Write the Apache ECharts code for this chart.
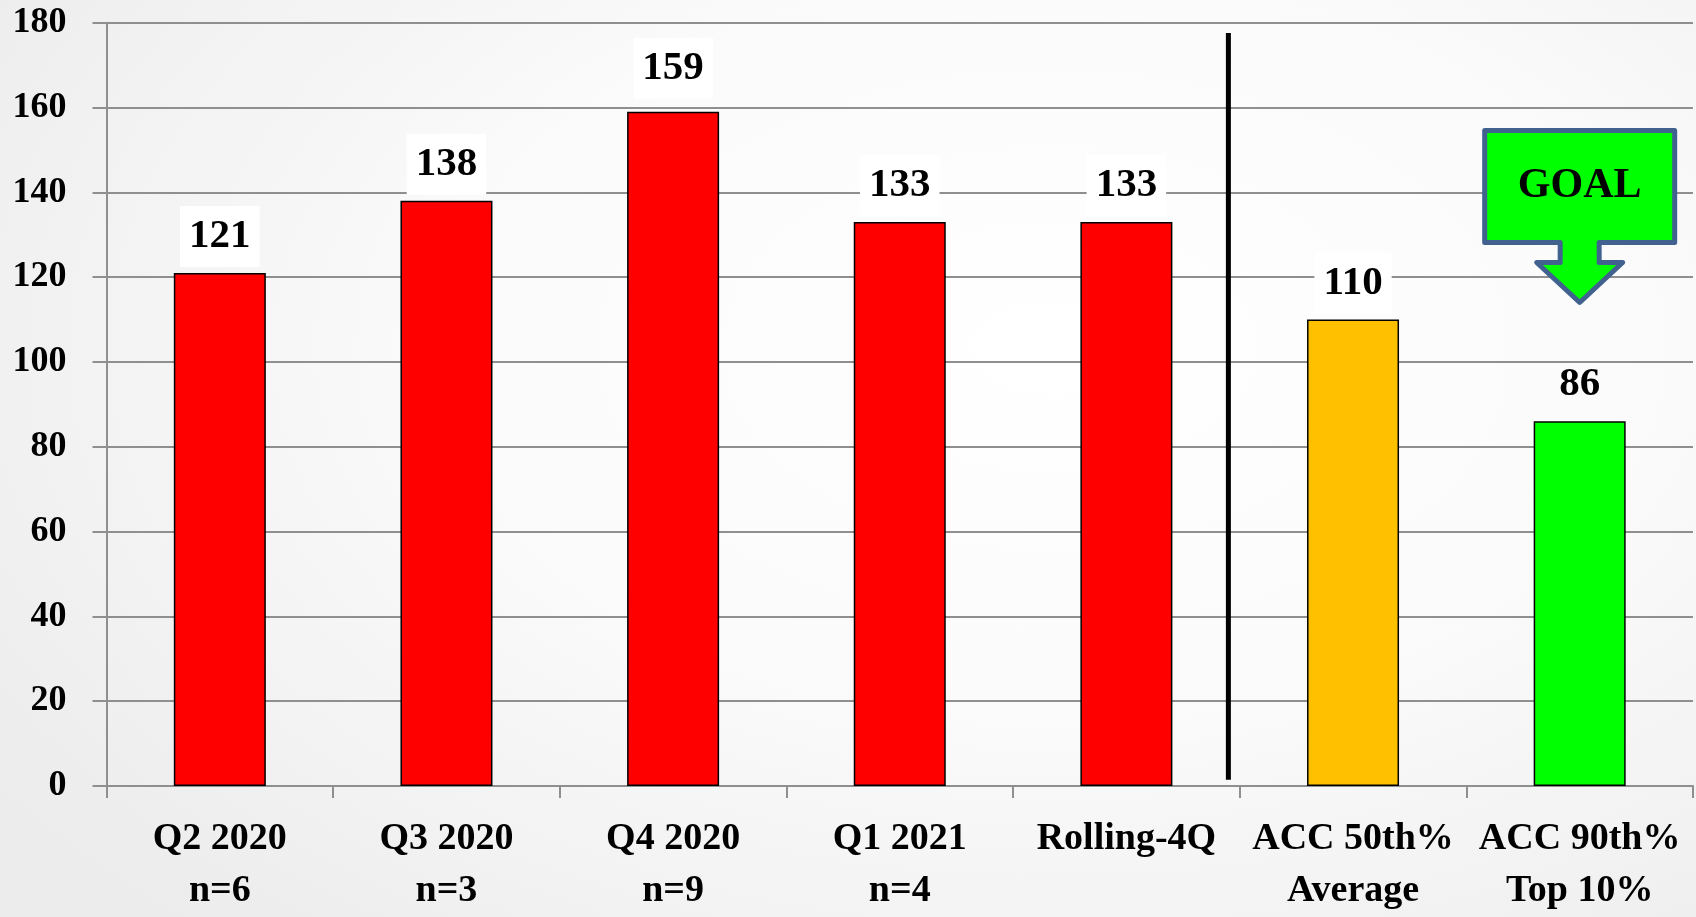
<!DOCTYPE html>
<html>
<head>
<meta charset="utf-8">
<title>Quarterly results vs ACC benchmarks</title>
<script src="https://cdn.jsdelivr.net/npm/echarts@6/dist/echarts.min.js"></script>
<style>
  html, body { margin: 0; padding: 0; width: 100%; height: 100%; overflow: hidden; }
  body { background: radial-gradient(ellipse 75% 85% at 62% 38%, #ffffff 0%, #fbfbfb 45%, #ececec 100%); }
  #chart { width: 100vw; height: 100vh; }
</style>
</head>
<body>
<div id="chart"></div>
<script>
// Category labels (two lines where a sample size is given)
const categories = [
  'Q2 2020\nn=6',
  'Q3 2020\nn=3',
  'Q4 2020\nn=9',
  'Q1 2021\nn=4',
  'Rolling-4Q',
  'ACC 50th%\nAverage',
  'ACC 90th%\nTop 10%'
];
// Bar values
const values = [121, 138, 159, 133, 133, 110, 86];
// Bar fill per category: own results red, benchmark average amber, goal green
const barColors = ['#ff0000', '#ff0000', '#ff0000', '#ff0000', '#ff0000', '#ffc000', '#00ff00'];
// Value-axis range and step
const yMin = 0;
const yMax = 180;
const yStep = 20;
// Callout text over the goal bar
const goalText = 'GOAL';

const FONT = '"Liberation Serif", "DejaVu Serif", serif';

const chart = echarts.init(document.getElementById('chart'), null, { renderer: 'canvas' });

const seriesData = values.map((v, i) => ({
  value: v,
  itemStyle: { color: barColors[i] },
  label: {
    backgroundColor: i === values.length - 1 ? 'transparent' : '#ffffff',
    distance: i === 2 ? 13 : 6
  }
}));

chart.setOption({
  backgroundColor: 'transparent',
  animation: false,
  grid: { left: 106.5, right: 3, top: 22.7, bottom: 126.4, containLabel: false },
  xAxis: {
    type: 'category',
    data: categories,
    boundaryGap: true,
    axisLine: { show: true, lineStyle: { color: '#8f8f8f', width: 2 } },
    axisTick: { show: true, length: 12, lineStyle: { color: '#8f8f8f', width: 2 } },
    axisLabel: {
      interval: 0,
      margin: 27,
      color: '#000',
      fontFamily: FONT,
      fontWeight: 'bold',
      fontSize: 38,
      lineHeight: 52
    },
    splitLine: { show: false }
  },
  yAxis: {
    type: 'value',
    min: yMin,
    max: yMax,
    interval: yStep,
    axisLine: { show: true, lineStyle: { color: '#8f8f8f', width: 2 } },
    axisTick: { show: true, length: 14, lineStyle: { color: '#8f8f8f', width: 2 } },
    axisLabel: {
      margin: 40,
      color: '#000',
      fontFamily: FONT,
      fontWeight: 'bold',
      fontSize: 36
    },
    splitLine: { show: true, lineStyle: { color: '#8f8f8f', width: 2 } }
  },
  series: [{
    type: 'bar',
    data: seriesData,
    barWidth: 92,
    itemStyle: { borderColor: '#000', borderWidth: 1.5 },
    label: {
      show: true,
      position: 'top',
      distance: 6,
      formatter: '{c}',
      color: '#000',
      fontFamily: FONT,
      fontWeight: 'bold',
      fontSize: 41,
      lineHeight: 41,
      padding: [10, 9]
    }
  }]
});

// Overlay: divider between own results and benchmarks, and the goal callout arrow
function drawOverlay() {
  const xRoll = chart.convertToPixel({ xAxisIndex: 0 }, categories[4]);
  const xAvg = chart.convertToPixel({ xAxisIndex: 0 }, categories[5]);
  const xGoal = chart.convertToPixel({ xAxisIndex: 0 }, categories[6]);
  const step = xAvg - xRoll;
  const xDiv = xRoll + step * 0.45;
  const yTop = chart.convertToPixel({ yAxisIndex: 0 }, 177.6);
  const yBot = chart.convertToPixel({ yAxisIndex: 0 }, 1.5);

  const cx = xGoal;
  const pts = [
    [cx - 95, 130.5], [cx + 95, 130.5], [cx + 95, 242.5],
    [cx + 19.5, 242.5], [cx + 19.5, 262.5], [cx + 43, 262.5],
    [cx, 302.5],
    [cx - 43, 262.5], [cx - 19.5, 262.5], [cx - 19.5, 242.5],
    [cx - 95, 242.5]
  ];

  chart.setOption({
    graphic: [
      {
        type: 'line',
        id: 'divider',
        z: 50,
        shape: { x1: xDiv, y1: yTop, x2: xDiv, y2: yBot },
        style: { stroke: '#000', lineWidth: 5 }
      },
      {
        type: 'polygon',
        id: 'goalArrow',
        z: 60,
        shape: { points: pts },
        style: { fill: '#00ff00', stroke: '#41628f', lineWidth: 5, lineJoin: 'round' }
      },
      {
        type: 'text',
        id: 'goalText',
        z: 61,
        x: cx,
        y: 186,
        style: {
          text: goalText,
          fill: '#000',
          font: 'bold 42px ' + FONT,
          textAlign: 'center',
          textVerticalAlign: 'middle'
        }
      }
    ]
  });
}
drawOverlay();
</script>
</body>
</html>
